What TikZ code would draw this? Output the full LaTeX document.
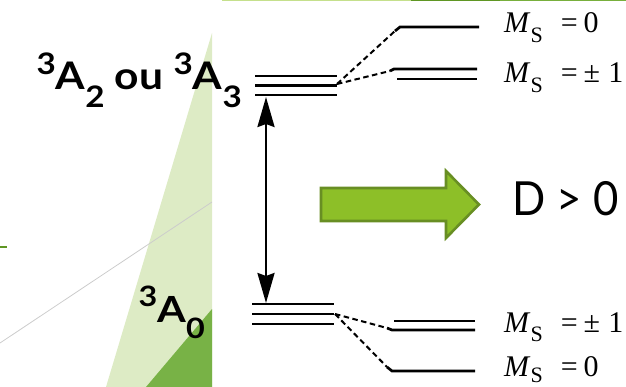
\documentclass[tikz,border=0pt]{standalone}
\usepackage{fontspec}
\usepackage{graphicx}
\usepackage{tikz}
\usetikzlibrary{arrows.meta}
\newfontfamily\labelfont{Lato}
\newfontfamily\msfont{Liberation Serif}
\definecolor{paleGreen}{RGB}{221,235,197}
\definecolor{darkGreen}{RGB}{120,178,70}
\definecolor{arrowGreen}{RGB}{141,191,40}
\definecolor{arrowEdge}{RGB}{104,142,35}
\definecolor{stripGreen}{RGB}{197,224,140}
\definecolor{lineGreen}{RGB}{95,150,35}
\definecolor{midGreen}{RGB}{120,175,60}
\newcommand{\Aterm}[1]{\raisebox{0.42em}{\scalebox{0.78}{3}}A\raisebox{-0.46em}{\scalebox{0.78}{#1}}}
\newcommand{\Mlab}[2][0.33em]{{\msfont\fontsize{30}{30}\selectfont\textit{M}\raisebox{-#1}{\fontsize{22}{22}\selectfont S}\hspace{0.6em}=\hspace{0.2em}#2}}
\tikzset{energy/.style={line width=2.7pt}, split/.style={dash pattern=on 5.5pt off 3.5pt, line width=2pt}}

\begin{document}
\begin{tikzpicture}[x=1pt,y=-1pt]
\useasboundingbox (0,0) rectangle (626,387);
\fill[paleGreen] (212,33) -- (212,387) -- (106,387) -- cycle;
\fill[darkGreen] (212,309) -- (212,387) -- (146,387) -- cycle;
\draw[gray!40, line width=0.8pt] (0,343) -- (212,202);
\draw[lineGreen, line width=2pt] (0,247) -- (7,247);
\fill[stripGreen] (222,0) rectangle (411,1.5);
\fill[lineGreen] (411,0) rectangle (500,1.5);
\fill[midGreen] (500,0) rectangle (626,1.5);
\foreach \y in {76,85.5,95}\draw[energy] (255,\y) -- (337,\y);
\foreach \y in {304,314,324}\draw[energy] (252,\y) -- (334,\y);
\coordinate (TopJoin) at (337,84);
\coordinate (TopZero) at (395,31);
\coordinate (TopPm) at (390,71);
\coordinate (LowJoin) at (335,314);
\coordinate (LowPm) at (387,328);
\coordinate (LowZero) at (387,367);
\draw[energy] (TopZero) -- (400,27) -- (479,27);
\draw[energy] (TopPm) -- (394,69) -- (477,69);
\draw[energy] (397,79) -- (477,79);
\draw[energy] (394,321) -- (475,321);
\draw[energy] (LowPm) -- (392,330) -- (475,330);
\draw[energy] (LowZero) -- (392,371) -- (475,371);
\draw[split] (TopJoin) -- (TopZero);
\draw[split] (TopJoin) -- (TopPm);
\draw[split] (LowJoin) -- (LowPm);
\draw[split] (LowJoin) -- (LowZero);
\coordinate (ArrUp) at (266,97);
\coordinate (ArrDown) at (266,303);
\draw[line width=2.6pt, {Stealth[length=30pt,width=17pt,inset=3pt]}-{Stealth[length=30pt,width=17pt,inset=3pt]}] (ArrUp) -- (ArrDown);
\draw[arrowEdge, fill=arrowGreen, line width=2.6pt] (321,188) -- (446,188) -- (446,171) -- (479,204.5) -- (446,238) -- (446,221) -- (321,221) -- cycle;
\node[anchor=base east, inner sep=0pt] (LabelUp) at (242,90) {\labelfont\bfseries\fontsize{38}{38}\selectfont\scalebox{1.12}[1]{\Aterm{2} ou \Aterm{3}}};
\node[anchor=base east, inner sep=0pt] (LabelDown) at (205,322) {\labelfont\bfseries\fontsize{36}{36}\selectfont\scalebox{1.15}[1]{\Aterm{0}}};
\node[anchor=west, inner sep=0pt] (LabelD) at (512,199) {\labelfont\fontsize{47}{47}\selectfont\scalebox{0.93}[1]{D > 0}};
\node[anchor=base west, inner sep=0pt] (MsTopZero) at (504,33) {\Mlab{0}};
\node[anchor=base west, inner sep=0pt] (MsTopPm) at (504,83) {\Mlab{±\hspace{0.27em}1}};
\node[anchor=base west, inner sep=0pt] (MsLowPm) at (504,332) {\Mlab{±\hspace{0.27em}1}};
\node[anchor=base west, inner sep=0pt] (MsLowZero) at (504,376) {\Mlab[0.2em]{0}};
\end{tikzpicture}
\end{document}
